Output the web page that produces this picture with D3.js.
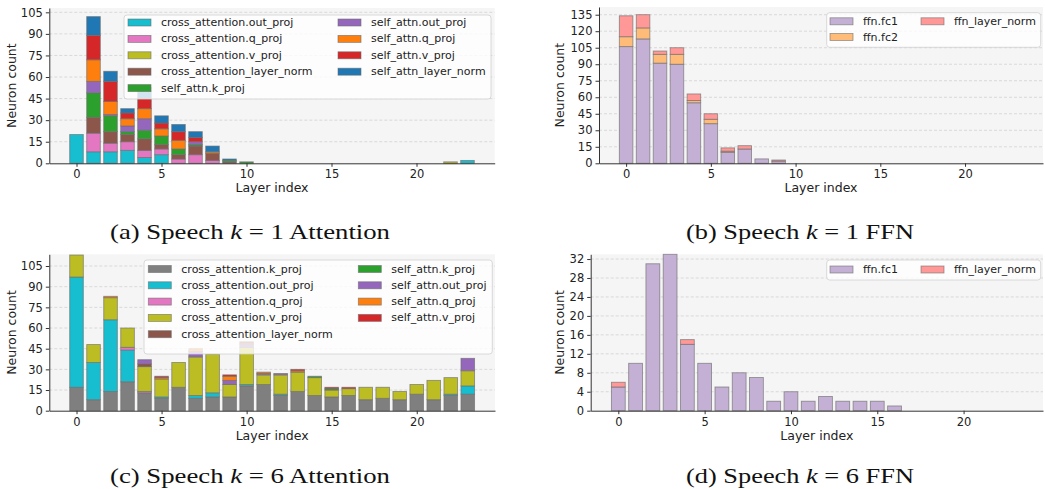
<!DOCTYPE html>
<html>
<head>
<meta charset="utf-8">
<script src="https://cdn.jsdelivr.net/npm/d3@7"></script>
<style>
  body { margin: 0; background: #fff; }
  svg { display: block; font-family: "DejaVu Sans", sans-serif; }
</style>
</head>
<body>
<svg id="fig" width="1045" height="489"></svg>
<script>
// ---- data ----
const LAYERS = [0,1,2,3,4,5,6,7,8,9,10,11,12,13,14,15,16,17,18,19,20,21,22,23];
const X_TICKS = [0, 5, 10, 15, 20];

// (a) Speech k=1 Attention
const A_CA_OUT = [20,8,8,9,4,6,0,0,0,0,0,0,0,0,0,0,0,0,0,0,0,0,0,2];
const A_CA_Q   = [0,13,6,6,5,4,3,6,2,0,0,0,0,0,0,0,0,0,0,0,0,0,0,0];
const A_CA_V   = [0,0,0,0,0,0,0,0,0,0,0,0,0,0,0,0,0,0,0,0,0,0,1,0];
const A_CA_LN  = [0,11,8,5,8,3,3,6,5,1,0,0,0,0,0,0,0,0,0,0,0,0,0,0];
const A_SA_K   = [0,17,11,2,6,6,4,1,0,1,1,0,0,0,0,0,0,0,0,0,0,0,0,0];
const A_SA_OUT = [0,8,1,4,8,0,0,2,0,0,0,0,0,0,0,0,0,0,0,0,0,0,0,0];
const A_SA_Q   = [0,15,9,5,7,5,6,0,1,0,0,0,0,0,0,0,0,0,0,0,0,0,0,0];
const A_SA_V   = [0,17,14,4,7,4,6,3,0,0,0,0,0,0,0,0,0,0,0,0,0,0,0,0];
const A_SA_LN  = [0,13,7,3,8,5,5,4,4,1,0,0,0,0,0,0,0,0,0,0,0,0,0,0];
const A_Y_TICKS = [0, 15, 30, 45, 60, 75, 90, 105];

// (b) Speech k=1 FFN
const B_FC1 = [106,113,91,90,55,36,10,13,4,2,0,0,0,0,0,0,0,0,0,0,0,0,0,0];
const B_FC2 = [9,10,8,9,2,4,1,0,0,0,0,0,0,0,0,0,0,0,0,0,0,0,0,0];
const B_LN  = [19,12,3,6,6,5,3,3,0,1,0,0,0,0,0,0,0,0,0,0,0,0,0,0];
const B_Y_TICKS = [0, 15, 30, 45, 60, 75, 90, 105, 120, 135];

// (c) Speech k=6 Attention
const C_CA_K   = [17,8,14,21,13,9,17,9,10,10,18,19,11,14,11,10,11,8,9,8,12,8,11,12];
const C_CA_OUT = [80,27,52,23,0,1,0,2,3,0,1,0,1,0,0,0,0,0,0,0,0,0,1,6];
const C_CA_Q   = [0,0,0,2,1,0,0,0,0,0,0,0,0,0,0,0,0,0,0,0,0,0,0,0];
const C_CA_V   = [16,13,16,14,18,13,18,28,28,9,27,7,14,14,13,5,5,9,8,6,7,14,12,11];
const C_CA_LN  = [0,0,0,0,2,0,0,0,0,0,0,0,0,0,0,0,0,0,0,0,0,0,0,0];
const C_SA_K   = [0,0,0,0,0,0,0,0,0,0,0,0,0,0,1,1,0,0,0,0,0,0,0,0];
const C_SA_OUT = [0,0,0,0,3,0,0,4,0,3,2,1,1,0,0,0,0,0,0,0,0,0,0,9];
const C_SA_Q   = [0,0,1,0,0,1,0,2,0,3,1,1,0,1,0,0,0,0,0,0,0,0,0,0];
const C_SA_V   = [0,0,0,0,0,1,0,0,0,1,1,0,0,1,0,1,1,0,0,0,0,0,0,0];
const C_Y_TICKS = [0, 15, 30, 45, 60, 75, 90, 105];

// (d) Speech k=6 FFN
const D_FC1 = [5,10,31,33,14,10,5,8,7,2,4,2,3,2,2,2,1,0,0,0,0,0,0,0];
const D_LN  = [1,0,0,0,1,0,0,0,0,0,0,0,0,0,0,0,0,0,0,0,0,0,0,0];
const D_Y_TICKS = [0, 4, 8, 12, 16, 20, 24, 28, 32];

const X_DOMAIN = [-1.6, 24.6];

const svg = d3.select('#fig');

function drawPanel(p) {
    const x = d3.scaleLinear().domain(X_DOMAIN).range([p.left, p.right]);
    const y = d3.scaleLinear().domain([0, p.yMax]).range([p.bottom, p.top]);
    const g = svg.append('g');

    // plot background
    g.append('rect')
        .attr('x', p.left).attr('y', p.top)
        .attr('width', p.right - p.left).attr('height', p.bottom - p.top)
        .attr('fill', '#f5f5f5');

    // dashed horizontal grid
    g.append('g').selectAll('line')
        .data(p.yTicks.filter(t => t > 0))
        .join('line')
        .attr('x1', p.left).attr('x2', p.right)
        .attr('y1', d => y(d)).attr('y2', d => y(d))
        .attr('stroke', '#d2d2d2')
        .attr('stroke-width', 0.8)
        .attr('stroke-dasharray', '3,2');

    // stacked bars
    const rows = LAYERS.map((l, i) => {
        const r = { layer: l };
        p.series.forEach(s => { r[s.name] = s.values[i]; });
        return r;
    });
    const stacked = d3.stack().keys(p.series.map(s => s.name))(rows);

    g.append('g').selectAll('g')
        .data(stacked)
        .join('g')
        .attr('fill', (d, i) => p.series[i].color)
        .selectAll('rect')
        .data(d => d.filter(v => v[1] > v[0]))
        .join('rect')
        .attr('x', d => x(d.data.layer - 0.4))
        .attr('width', d => x(d.data.layer + 0.4) - x(d.data.layer - 0.4))
        .attr('y', d => y(d[1]))
        .attr('height', d => y(d[0]) - y(d[1]))
        .attr('stroke', '#6e6e6e')
        .attr('stroke-opacity', 0.7)
        .attr('stroke-width', 0.9);

    // axes
    const xAxis = g.append('g')
        .attr('transform', `translate(0,${p.bottom})`)
        .call(d3.axisBottom(x).tickValues(X_TICKS).tickSize(3.5).tickPadding(3.5).tickSizeOuter(0));
    const yAxis = g.append('g')
        .attr('transform', `translate(${p.left},0)`)
        .call(d3.axisLeft(y).tickValues(p.yTicks).tickSize(3.5).tickPadding(3).tickSizeOuter(0));
    [xAxis, yAxis].forEach(a => {
        a.attr('font-family', '"DejaVu Sans", sans-serif').attr('font-size', 11.5);
        a.select('.domain').attr('stroke', '#333').attr('stroke-width', 1);
        a.selectAll('.tick line').attr('stroke', '#333');
        a.selectAll('.tick text').attr('fill', '#222');
    });

    // axis labels
    g.append('text')
        .attr('x', (p.left + p.right) / 2)
        .attr('y', p.bottom + 29)
        .attr('text-anchor', 'middle')
        .attr('font-size', 12.5)
        .attr('fill', '#222')
        .text('Layer index');
    g.append('text')
        .attr('transform', `translate(${p.ylabelX},${(p.top + p.bottom) / 2}) rotate(-90)`)
        .attr('text-anchor', 'middle')
        .attr('font-size', 12.5)
        .attr('fill', '#222')
        .text('Neuron count');

    // legend
    const L = p.legend;
    const lg = g.append('g');
    lg.append('rect')
        .attr('x', L.x).attr('y', L.y)
        .attr('width', L.w).attr('height', L.h)
        .attr('rx', 3)
        .attr('fill', '#fff').attr('fill-opacity', 0.8)
        .attr('stroke', '#d0d0d0').attr('stroke-width', 0.8);
    const perCol = Math.ceil(p.series.length / L.cols.length);
    p.series.forEach((s, i) => {
        const cx = L.x + L.cols[Math.floor(i / perCol)];
        const cy = L.y + L.row0 + (i % perCol) * L.rowStep;
        lg.append('rect')
            .attr('x', cx).attr('y', cy - 3.5)
            .attr('width', 23).attr('height', 7)
            .attr('fill', s.color)
            .attr('stroke', '#6e6e6e').attr('stroke-opacity', 0.7).attr('stroke-width', 0.8);
        lg.append('text')
            .attr('x', cx + 33).attr('y', cy)
            .attr('dominant-baseline', 'central')
            .attr('font-size', 11)
            .attr('fill', '#222')
            .text(s.name);
    });

    // caption
    const cap = svg.append('text')
        .attr('x', p.capX).attr('y', p.capY)
        .attr('text-anchor', 'middle')
        .attr('font-family', '"Liberation Serif", serif')
        .attr('font-size', 22)
        .attr('fill', '#111')
        .attr('textLength', p.capW)
        .attr('lengthAdjust', 'spacingAndGlyphs');
    cap.append('tspan').text(p.caption[0]);
    cap.append('tspan').attr('font-style', 'italic').text('k');
    cap.append('tspan').text(p.caption[1]);
}

const TAB = {
    blue: '#1f77b4', orange: '#ff7f0e', green: '#2ca02c', red: '#d62728', purple: '#9467bd',
    brown: '#8c564b', pink: '#e377c2', gray: '#7f7f7f', olive: '#bcbd22', cyan: '#17becf'
};

drawPanel({
    left: 49.3, right: 494.7, top: 8, bottom: 163.3, yMax: 108, yTicks: A_Y_TICKS, ylabelX: 15.7,
    series: [
        { name: 'cross_attention.out_proj', values: A_CA_OUT, color: TAB.cyan },
        { name: 'cross_attention.q_proj', values: A_CA_Q, color: TAB.pink },
        { name: 'cross_attention.v_proj', values: A_CA_V, color: TAB.olive },
        { name: 'cross_attention_layer_norm', values: A_CA_LN, color: TAB.brown },
        { name: 'self_attn.k_proj', values: A_SA_K, color: TAB.green },
        { name: 'self_attn.out_proj', values: A_SA_OUT, color: TAB.purple },
        { name: 'self_attn.q_proj', values: A_SA_Q, color: TAB.orange },
        { name: 'self_attn.v_proj', values: A_SA_V, color: TAB.red },
        { name: 'self_attn_layer_norm', values: A_SA_LN, color: TAB.blue }
    ],
    legend: { x: 124, y: 15, w: 367, h: 84, cols: [4, 214], row0: 7.5, rowStep: 16.4 },
    caption: ['(a) Speech ', ' = 1 Attention'], capX: 250, capY: 239, capW: 280
});

drawPanel({
    left: 599, right: 1043, top: 7, bottom: 163.3, yMax: 142, yTicks: B_Y_TICKS, ylabelX: 564.3,
    series: [
        { name: 'ffn.fc1', values: B_FC1, color: '#c5b0d5' },
        { name: 'ffn.fc2', values: B_FC2, color: '#ffbb78' },
        { name: 'ffn_layer_norm', values: B_LN, color: '#ff9896' }
    ],
    legend: { x: 826.7, y: 12.7, w: 214, h: 34.6, cols: [3.3, 94.3], row0: 8.6, rowStep: 15.7 },
    caption: ['(b) Speech ', ' = 1 FFN'], capX: 800, capY: 239, capW: 228
});

drawPanel({
    left: 49.3, right: 495, top: 254.3, bottom: 410.7, yMax: 113.5, yTicks: C_Y_TICKS, ylabelX: 15.7,
    series: [
        { name: 'cross_attention.k_proj', values: C_CA_K, color: TAB.gray },
        { name: 'cross_attention.out_proj', values: C_CA_OUT, color: TAB.cyan },
        { name: 'cross_attention.q_proj', values: C_CA_Q, color: TAB.pink },
        { name: 'cross_attention.v_proj', values: C_CA_V, color: TAB.olive },
        { name: 'cross_attention_layer_norm', values: C_CA_LN, color: TAB.brown },
        { name: 'self_attn.k_proj', values: C_SA_K, color: TAB.green },
        { name: 'self_attn.out_proj', values: C_SA_OUT, color: TAB.purple },
        { name: 'self_attn.q_proj', values: C_SA_Q, color: TAB.orange },
        { name: 'self_attn.v_proj', values: C_SA_V, color: TAB.red }
    ],
    legend: { x: 144, y: 260, w: 348.3, h: 94, cols: [4.3, 214.3], row0: 9, rowStep: 16.3 },
    caption: ['(c) Speech ', ' = 6 Attention'], capX: 250, capY: 483, capW: 280
});

drawPanel({
    left: 590.7, right: 1043, top: 254.3, bottom: 410.7, yMax: 33, yTicks: D_Y_TICKS, ylabelX: 564.3,
    series: [
        { name: 'ffn.fc1', values: D_FC1, color: '#c5b0d5' },
        { name: 'ffn_layer_norm', values: D_LN, color: '#ff9896' }
    ],
    legend: { x: 826.7, y: 260, w: 214, h: 20, cols: [3.3, 94.3], row0: 9.5, rowStep: 15.7 },
    caption: ['(d) Speech ', ' = 6 FFN'], capX: 800, capY: 483, capW: 228
});
</script>
</body>
</html>
